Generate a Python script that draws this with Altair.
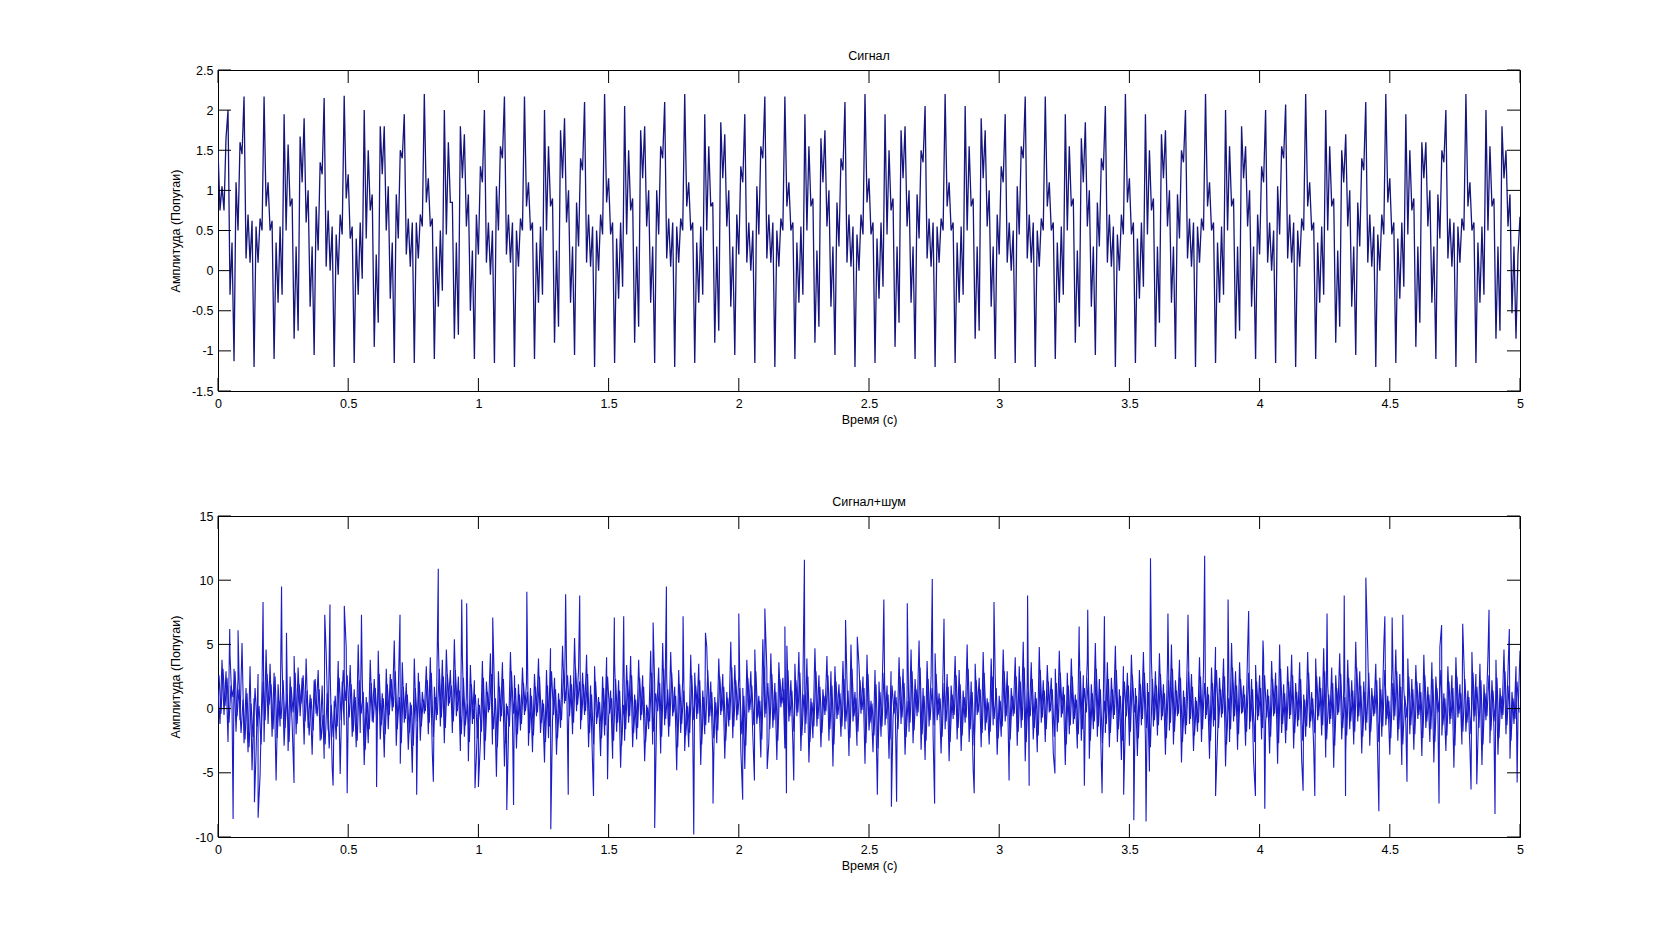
import altair as alt
import pandas as pd

# ---------------- data ----------------
# top panel: "Сигнал" - successive local extrema, evenly spaced over 0..5 s
signal_vals = [
    1.5, 0.75, 1.05, 0.75, 1.65, 2.0, -0.3, 0.35,
    -1.13, 1.10, 0.50, 1.60, 1.45, 2.17, 0.15, 0.70, 0.10, 0.62,
    -1.20, 0.55, 0.10, 0.65, 0.50, 2.17, 0.80, 1.10, 0.50, 0.62,
    -1.10, 0.35, -0.40, 0.55, -0.30, 1.95, 0.50, 1.57, 0.80, 0.90,
    -0.85, 0.30, -0.75, 1.67, 1.10, 1.90, 0.60, 1.00, -0.45, 0.30,
    -1.05, 0.80, 0.25, 1.35, 1.20, 2.15, 0.05, 0.75, 0.00, 0.55,
    -1.20, 0.45, -0.05, 0.70, 0.45, 2.18, 0.90, 1.20, 0.40, 0.55,
    -1.15, 0.40, -0.30, 0.60, -0.10, 2.00, 0.40, 1.50, 0.75, 0.95,
    -0.95, 0.20, -0.65, 1.80, 1.20, 1.80, 0.50, 1.05, -0.35, 0.35,
    -1.15, 0.95, 0.40, 1.50, 1.40, 1.95, 0.20, 0.65, 0.05, 0.60,
    -1.15, 0.60, 0.15, 0.70, 0.55, 2.20, 0.85, 1.15, 0.55, 0.65,
    -1.10, 0.30, -0.45, 0.50, -0.25, 2.00, 0.45, 1.60, 0.85, 0.85,
    -0.85, 0.35, -0.80, 1.80, 1.15, 1.70, 0.55, 0.95, -0.50, 0.25,
    -1.10, 0.70, 0.20, 1.30, 1.10, 2.00, 0.10, 0.60, -0.05, 0.50,
    -1.15, 1.05, 0.50, 1.55, 1.40, 2.17, 0.20, 0.70, 0.10, 0.60,
    -1.20, 0.50, 0.05, 0.65, 0.50, 2.17, 0.80, 1.10, 0.50, 0.60,
    -1.10, 0.35, -0.40, 0.55, -0.30, 2.00, 0.50, 1.55, 0.80, 0.90,
    -0.90, 0.25, -0.70, 1.75, 1.15, 1.90, 0.60, 1.00, -0.40, 0.30,
    -1.05, 0.85, 0.30, 1.40, 1.25, 2.10, 0.10, 0.70, 0.05, 0.55,
    -1.20, 0.50, 0.00, 0.70, 0.45, 2.20, 0.85, 1.15, 0.45, 0.60,
    -1.15, 0.40, -0.35, 0.60, -0.20, 2.05, 0.45, 1.50, 0.75, 0.90,
    -0.90, 0.30, -0.70, 1.75, 1.15, 1.80, 0.55, 1.00, -0.40, 0.30,
    -1.15, 1.00, 0.45, 1.55, 1.40, 2.10, 0.15, 0.65, 0.05, 0.60,
    -1.20, 0.55, 0.10, 0.65, 0.50, 2.20, 0.80, 1.10, 0.50, 0.60,
    -1.15, 0.35, -0.40, 0.55, -0.30, 1.95, 0.50, 1.55, 0.80, 0.85,
    -0.90, 0.30, -0.75, 1.85, 1.15, 1.70, 0.55, 1.00, -0.45, 0.30,
    -1.05, 0.70, 0.20, 1.30, 1.10, 1.95, 0.10, 0.60, 0.00, 0.50,
    -1.15, 1.05, 0.45, 1.55, 1.40, 2.17, 0.15, 0.70, 0.10, 0.60,
    -1.20, 0.50, 0.05, 0.65, 0.50, 2.17, 0.80, 1.10, 0.50, 0.60,
    -1.10, 0.35, -0.40, 0.55, -0.30, 1.95, 0.50, 1.55, 0.80, 0.90,
    -0.90, 0.25, -0.70, 1.65, 1.10, 1.75, 0.55, 1.00, -0.45, 0.30,
    -1.05, 0.85, 0.30, 1.40, 1.25, 2.10, 0.10, 0.70, 0.05, 0.55,
    -1.20, 0.45, 0.00, 0.70, 0.45, 2.20, 0.85, 1.15, 0.45, 0.60,
    -1.15, 0.40, -0.35, 0.60, -0.20, 1.95, 0.45, 1.50, 0.75, 0.90,
    -0.95, 0.30, -0.65, 1.75, 1.15, 1.80, 0.55, 1.00, -0.40, 0.30,
    -1.10, 0.95, 0.40, 1.50, 1.35, 2.05, 0.15, 0.65, 0.05, 0.60,
    -1.20, 0.55, 0.10, 0.65, 0.50, 2.20, 0.80, 1.10, 0.50, 0.60,
    -1.15, 0.35, -0.40, 0.55, -0.30, 2.05, 0.50, 1.55, 0.80, 0.90,
    -0.85, 0.30, -0.75, 1.90, 1.15, 1.75, 0.55, 1.00, -0.45, 0.30,
    -1.10, 0.70, 0.20, 1.30, 1.10, 1.95, 0.10, 0.60, 0.00, 0.50,
    -1.15, 1.05, 0.45, 1.55, 1.40, 2.17, 0.15, 0.70, 0.10, 0.60,
    -1.20, 0.50, 0.05, 0.65, 0.50, 2.17, 0.80, 1.10, 0.50, 0.60,
    -1.10, 0.35, -0.40, 0.55, -0.30, 1.95, 0.50, 1.55, 0.80, 0.90,
    -0.90, 0.25, -0.70, 1.65, 1.10, 1.85, 0.55, 1.00, -0.45, 0.30,
    -1.05, 0.85, 0.30, 1.40, 1.25, 2.05, 0.10, 0.70, 0.05, 0.55,
    -1.20, 0.45, 0.00, 0.70, 0.45, 2.20, 0.85, 1.15, 0.45, 0.60,
    -1.15, 0.40, -0.35, 0.60, -0.20, 1.95, 0.45, 1.50, 0.75, 0.90,
    -0.95, 0.30, -0.65, 1.70, 1.15, 1.75, 0.55, 1.00, -0.40, 0.30,
    -1.10, 0.95, 0.40, 1.50, 1.35, 2.00, 0.15, 0.65, 0.05, 0.60,
    -1.20, 0.55, 0.10, 0.65, 0.50, 2.20, 0.80, 1.10, 0.50, 0.60,
    -1.15, 0.35, -0.40, 0.55, -0.30, 2.00, 0.50, 1.55, 0.80, 0.90,
    -0.85, 0.30, -0.75, 1.80, 1.15, 1.55, 0.55, 1.00, -0.45, 0.30,
    -1.10, 0.70, 0.20, 1.30, 1.10, 2.00, 0.10, 0.60, 0.00, 0.50,
    -1.15, 1.05, 0.45, 1.55, 1.40, 2.07, 0.15, 0.70, 0.10, 0.60,
    -1.20, 0.50, 0.05, 0.65, 0.50, 2.20, 0.80, 1.10, 0.50, 0.60,
    -1.10, 0.35, -0.40, 0.55, -0.30, 2.00, 0.50, 1.55, 0.80, 0.90,
    -0.90, 0.25, -0.70, 1.50, 1.10, 1.70, 0.55, 1.00, -0.45, 0.30,
    -1.05, 0.85, 0.30, 1.40, 1.25, 2.10, 0.10, 0.70, 0.05, 0.55,
    -1.20, 0.45, 0.00, 0.70, 0.45, 2.20, 0.85, 1.15, 0.45, 0.60,
    -1.15, 0.40, -0.35, 0.60, -0.20, 1.95, 0.45, 1.50, 0.75, 0.90,
    -0.95, 0.30, -0.65, 1.60, 1.15, 1.60, 0.55, 1.00, -0.40, 0.30,
    -1.10, 0.95, 0.40, 1.50, 1.35, 2.00, 0.15, 0.65, 0.05, 0.60,
    -1.20, 0.55, 0.10, 0.65, 0.50, 2.20, 0.80, 1.10, 0.50, 0.60,
    -1.15, 0.35, -0.40, 0.55, -0.30, 2.00, 0.50, 1.55, 0.80, 0.90,
    -0.85, 0.30, -0.75, 1.80, 1.15, 1.50, 0.55, 0.95, -0.53, 0.30,
    -0.85, 0.20, 0.67,
]

# bottom panel: "Сигнал+шум" - body of the noisy trace (outer swings), evenly spaced over 0..5 s
noisy_base = [
    1.5, -1.2, 3.8, -0.5, 2.9, -2.6, 4.2, 0.3, 3.1, -1.8, 2.4, -0.9, 5.1, -2.7, 1.6, -3.4, 3.3, -4.8, 0.8, -3.5, 2.7, -5.2, 1.9, -2.6, 4.6, -1.2,
    3.5, -2.2, 2.8, -5.6, 1.9, -1.4, 3.6, -2.9, 0.7, -3.3, 2.5, -1.1, 4.1, -2.0, 3.2, -0.6, 2.4, -2.8, 3.9, -1.5, 1.1, -3.6, 2.2, -0.4, 3.0, -2.5,
    1.8, -3.9, 4.4, -1.7, 2.9, -4.6, 0.6, -2.4, 3.7, -5.1, 2.1, -1.3, 4.8, -0.8, 3.4, -2.2, 1.5, -3.0, 5.0, -1.9, 2.6, -4.4, 0.9, -2.7, 3.8, -1.0,
    2.3, -0.7, 4.5, -2.4, 1.2, -3.8, 3.1, -1.6, 2.7, -0.2, 5.3, -2.9, 1.4, -4.3, 3.6, -1.1, 2.0, -3.2, 0.5, -5.0, 3.9, -1.8, 2.8, -2.5, 1.3, -0.4,
    3.3, -2.0, 4.0, -3.5, 1.7, -0.9, 5.2, -1.4, 3.8, -2.7, 4.6, 0.2, 3.0, -1.9, 5.4, -0.6, 2.5, -3.3, 4.1, -2.2, 1.0, -4.1, 3.4, -1.2, 2.2, -3.7,
    0.8, -2.6, 3.7, -4.0, 2.1, -0.3, 4.3, -2.8, 1.5, -5.3, 2.9, -1.0, 3.6, -4.5, 0.4, -2.1, 4.4, -0.8, 2.6, -3.1, 1.9, -1.7, 3.2, -0.5, 2.0, -2.9,
    1.6, -3.4, 2.7, -0.6, 3.9, -1.9, 0.7, -4.2, 3.0, -2.3, 4.7, -0.9, 2.4, -3.6, 1.2, -1.5, 4.9, 0.4, 3.5, -1.3, 2.6, -2.0, 5.5, -0.2, 3.1, -1.6,
    2.8, -0.5, 4.2, -3.0, 1.8, -4.4, 3.3, -1.2, 0.9, -3.7, 2.5, -2.1, 4.0, -0.7, 1.4, -3.9, 3.6, -1.8, 2.2, -4.6, 0.6, -2.5, 3.4, -1.1, 4.1, -3.0,
    1.1, -2.4, 3.8, -0.9, 2.6, -4.1, 0.3, -1.6, 4.5, -2.8, 1.9, -0.4, 3.2, -3.5, 5.1, -1.3, 2.4, -2.2, 4.4, -0.6, 1.7, -4.8, 3.0, -1.9, 2.3, -3.3,
    0.5, -3.0, 4.2, -1.5, 2.8, -0.8, 3.5, -4.4, 1.4, -2.0, 4.8, -1.1, 2.1, -3.6, 0.9, -2.7, 3.9, -0.5, 2.7, -3.9, 1.3, -1.4, 5.2, -2.3, 3.4, -0.9,
    2.5, -3.2, 1.6, -4.7, 3.8, -0.3, 2.9, -2.1, 4.6, -1.2, 1.0, -3.8, 5.4, -0.7, 3.1, -2.6, 4.3, -1.5, 2.0, -4.0, 3.6, 0.1, 2.4, -3.1, 4.9, -1.0,
    2.2, -2.8, 3.5, -0.6, 4.4, -3.3, 1.7, -1.9, 3.9, -4.2, 0.8, -2.3, 4.7, -1.4, 2.6, -3.0, 1.5, -0.5, 4.1, -2.5, 2.9, -4.5, 3.3, -0.8, 1.9, -2.2,
    3.7, -1.6, 2.2, -3.7, 5.0, -1.0, 1.3, -2.9, 3.4, -0.4, 2.5, -4.3, 4.2, -1.7, 0.6, -3.4, 3.0, -5.1, 2.1, -2.2, 4.5, -1.3, 1.8, -3.9, 2.9, -0.7,
    1.4, -2.5, 4.0, -1.2, 3.1, -3.6, 0.9, -1.8, 4.6, -2.7, 2.3, -0.6, 5.3, -3.2, 1.6, -4.0, 3.7, -1.4, 2.5, -2.1, 4.3, -0.9, 1.2, -3.5, 3.2, -1.6,
    2.7, -4.1, 1.8, -0.8, 4.1, -2.4, 3.0, -3.3, 1.4, -1.1, 5.0, -2.6, 2.1, -4.7, 3.5, -0.5, 2.4, -3.0, 4.4, -1.7, 0.8, -2.8, 3.9, -1.3, 2.6, -3.6,
    1.0, -2.2, 4.6, -1.0, 2.9, -3.8, 1.6, -0.6, 4.0, -2.9, 3.3, -1.5, 5.2, -4.1, 2.0, -0.9, 3.6, -2.4, 1.3, -3.4, 4.8, -1.1, 2.2, -2.6, 3.4, -0.3,
    2.4, -3.5, 3.1, -1.8, 4.5, -0.7, 1.7, -4.4, 2.8, -2.0, 3.9, -1.2, 1.1, -3.1, 4.7, -2.5, 2.6, -0.4, 3.8, -3.9, 1.9, -1.6, 5.1, -2.2, 2.3, -4.3,
    0.9, -1.9, 3.6, -3.0, 2.4, -0.8, 4.9, -2.6, 1.5, -4.0, 3.3, -1.0, 2.8, -2.9, 4.2, -0.5, 1.6, -3.7, 3.0, -1.3, 4.4, -2.4, 2.0, -4.9, 3.7, -1.4,
    2.9, -2.1, 4.3, -0.9, 1.9, -3.6, 3.5, -1.7, 5.0, -2.8, 2.2, -0.6, 3.8, -4.2, 1.4, -2.0, 4.6, -1.2, 2.7, -3.3, 0.9, -1.8, 4.0, -2.6, 3.1, -0.8,
    1.7, -3.9, 3.2, -1.4, 4.8, -2.3, 2.4, -0.7, 3.9, -4.5, 1.2, -2.6, 5.1, -1.0, 2.9, -3.2, 3.6, -0.4, 1.8, -2.9, 4.5, -1.6, 2.3, -4.1, 3.4, -0.9,
    2.6, -2.4, 4.1, -1.1, 1.5, -3.5, 3.7, -0.6, 2.8, -4.3, 5.0, -1.9, 1.9, -2.7, 3.3, -0.8, 4.2, -3.1, 2.0, -1.4, 3.6, -4.0, 1.1, -2.2, 4.4, -1.5,
    1.3, -3.0, 3.9, -0.9, 2.5, -2.1, 4.7, -3.8, 1.8, -1.2, 3.2, -4.6, 2.6, -0.5, 4.3, -2.4, 1.4, -3.4, 3.8, -1.6, 2.2, -2.8, 5.2, -1.0, 2.9, -3.5,
    2.1, -1.7, 4.5, -2.9, 1.6, -0.6, 3.5, -4.1, 2.4, -2.2, 4.9, -1.3, 1.0, -3.6, 3.1, -0.9, 4.6, -2.5, 2.7, -4.4, 1.5, -1.1, 3.9, -2.0, 2.3, -3.2,
    3.4, -0.8, 2.0, -3.7, 4.2, -1.5, 1.7, -2.6, 3.6, -4.2, 2.5, -0.4, 4.8, -2.1, 1.2, -3.3, 3.3, -1.2, 2.6, -4.6, 4.0, -0.7, 1.9, -2.8, 3.7, -1.8,
    1.4, -3.1, 4.4, -1.0, 2.7, -2.4, 3.5, -4.4, 1.9, -0.9, 4.1, -2.7, 2.2, -1.5, 3.8, -3.6, 1.6, -0.8, 4.6, -2.0, 2.9, -3.9, 1.3, -1.2, 3.3, -0.5,
    4.5,
]

# bottom panel: the dense inner core of the noisy trace, evenly spaced (half a step later)
noisy_core = [
    2.6, -0.4, 3.1, 0.2, 2.4, -1.1, 1.8, 0.9, 2.9, -0.6, 1.5, -1.9, 0.7, -2.4, 1.2, -3.0, 0.4, -2.2, 1.6, -1.4, 0.2, -2.8, 2.1, -0.9, 2.7, 0.3,
    1.9, -1.6, 2.5, -2.3, 0.6, -0.8, 2.2, -1.5, 1.1, -2.6, 1.7, -0.3, 2.8, -1.2, 1.9, 0.4, 2.6, -1.0, 1.4, -2.1, 0.8, -1.7, 2.3, -0.6, 1.5, -2.4,
    -0.5, -2.8, 1.2, -3.1, 0.3, -2.2, 1.0, -1.4, 2.4, -0.9, 3.0, 0.6, 2.6, -0.7, 1.9, -1.8, 0.9, -2.5, 2.2, -0.4, 1.3, -3.2, 0.5, -1.6, 2.0, -1.1,
    1.6, -0.9, 2.7, -1.3, 0.8, -2.0, 1.9, -0.5, 2.3, 0.1, 2.9, -1.6, 0.9, -2.7, 1.7, -0.8, 1.1, -1.9, 0.3, -2.9, 1.6, -1.0, 2.1, -1.4, 0.7, -0.2,
    2.2, -1.1, 2.8, -2.2, 0.9, -0.5, 3.1, -0.7, 2.5, -1.5, 2.7, 0.4, 1.8, -1.0, 3.0, -0.2, 1.4, -2.0, 2.4, -1.3, 0.4, -2.6, 1.9, -0.8, 1.1, -2.3,
    0.3, -1.8, 2.4, -2.5, 1.3, -0.1, 2.7, -1.6, 0.8, -3.0, 1.7, -0.6, 2.3, -2.7, 0.2, -1.4, 2.9, -0.4, 1.6, -2.0, 1.1, -1.2, 2.0, -0.2, 1.3, -1.9,
    1.0, -2.1, 1.7, -0.3, 2.5, -1.1, 0.4, -2.6, 1.8, -1.4, 2.9, -0.5, 1.5, -2.3, 0.7, -0.9, 3.0, 0.6, 2.6, -0.6, 1.9, -1.1, 3.2, 0.3, 2.1, -0.9,
    1.9, -0.2, 2.7, -1.9, 1.1, -2.8, 2.1, -0.7, 0.5, -2.3, 1.6, -1.3, 2.5, -0.4, 0.8, -2.5, 2.3, -1.1, 1.4, -2.9, 0.3, -1.6, 2.2, -0.6, 2.6, -1.9,
    0.7, -1.5, 2.4, -0.5, 1.7, -2.6, 0.1, -1.0, 2.8, -1.8, 1.2, -0.2, 2.0, -2.2, 3.1, -0.8, 1.5, -1.4, 2.8, -0.3, 1.0, -3.0, 1.9, -1.2, 1.4, -2.1,
    0.2, -1.9, 2.6, -0.9, 1.8, -0.4, 2.2, -2.8, 0.9, -1.3, 3.0, -0.6, 1.3, -2.3, 0.5, -1.7, 2.5, -0.2, 1.7, -2.5, 0.8, -0.9, 3.2, -1.4, 2.2, -0.5,
    1.6, -2.0, 1.0, -2.9, 2.4, -0.1, 1.8, -1.3, 2.9, -0.7, 0.6, -2.4, 3.3, -0.4, 2.0, -1.6, 2.7, -0.9, 1.3, -2.5, 2.3, 0.4, 1.5, -1.9, 3.0, -0.6,
    1.4, -1.8, 2.2, -0.3, 2.8, -2.1, 1.1, -1.2, 2.5, -2.6, 0.5, -1.4, 2.9, -0.8, 1.7, -1.9, 1.0, -0.2, 2.6, -1.6, 1.8, -2.8, 2.1, -0.5, 1.2, -1.4,
    2.3, -1.0, 1.4, -2.3, 3.1, -0.6, 0.8, -1.8, 2.2, -0.1, 1.6, -2.7, 2.7, -1.1, 0.4, -2.1, 1.9, -3.1, 1.3, -1.4, 2.8, -0.8, 1.1, -2.4, 1.8, -0.4,
    0.9, -1.6, 2.5, -0.7, 2.0, -2.2, 0.6, -1.1, 2.9, -1.7, 1.5, -0.3, 3.2, -2.0, 1.0, -2.5, 2.3, -0.9, 1.6, -1.3, 2.7, -0.5, 0.8, -2.2, 2.0, -1.0,
    1.7, -2.6, 1.1, -0.5, 2.6, -1.5, 1.9, -2.1, 0.9, -0.7, 3.1, -1.6, 1.3, -2.9, 2.2, -0.3, 1.5, -1.9, 2.8, -1.1, 0.5, -1.8, 2.5, -0.8, 1.6, -2.3,
    0.6, -1.4, 2.9, -0.6, 1.8, -2.4, 1.0, -0.4, 2.5, -1.8, 2.1, -0.9, 3.2, -2.6, 1.3, -0.6, 2.3, -1.5, 0.8, -2.1, 3.0, -0.7, 1.4, -1.6, 2.1, -0.2,
    1.5, -2.2, 2.0, -1.1, 2.8, -0.4, 1.1, -2.8, 1.8, -1.3, 2.5, -0.8, 0.7, -2.0, 2.9, -1.6, 1.6, -0.3, 2.4, -2.5, 1.2, -1.0, 3.1, -1.4, 1.5, -2.7,
    0.6, -1.2, 2.3, -1.9, 1.5, -0.5, 3.0, -1.6, 1.0, -2.5, 2.1, -0.6, 1.8, -1.8, 2.6, -0.3, 1.0, -2.3, 1.9, -0.8, 2.8, -1.5, 1.3, -3.0, 2.3, -0.9,
    1.8, -1.3, 2.7, -0.6, 1.2, -2.3, 2.2, -1.1, 3.1, -1.8, 1.4, -0.4, 2.4, -2.6, 0.9, -1.3, 2.9, -0.8, 1.7, -2.1, 0.6, -1.1, 2.5, -1.6, 2.0, -0.5,
    1.1, -2.5, 2.0, -0.9, 3.0, -1.5, 1.5, -0.4, 2.5, -2.8, 0.8, -1.6, 3.2, -0.6, 1.8, -2.0, 2.3, -0.3, 1.1, -1.8, 2.8, -1.0, 1.5, -2.6, 2.1, -0.6,
    1.6, -1.5, 2.6, -0.7, 1.0, -2.2, 2.3, -0.4, 1.8, -2.7, 3.1, -1.2, 1.2, -1.7, 2.1, -0.5, 2.6, -1.9, 1.3, -0.9, 2.3, -2.5, 0.7, -1.4, 2.8, -1.0,
    0.8, -1.9, 2.5, -0.6, 1.6, -1.3, 2.9, -2.4, 1.1, -0.8, 2.0, -2.9, 1.6, -0.3, 2.7, -1.5, 0.9, -2.1, 2.4, -1.0, 1.4, -1.8, 3.2, -0.6, 1.8, -2.2,
    1.3, -1.1, 2.8, -1.8, 1.0, -0.4, 2.2, -2.6, 1.5, -1.4, 3.0, -0.8, 0.6, -2.3, 2.0, -0.6, 2.9, -1.6, 1.7, -2.8, 1.0, -0.7, 2.5, -1.3, 1.5, -2.0,
    2.1, -0.5, 1.3, -2.3, 2.6, -1.0, 1.1, -1.6, 2.3, -2.6, 1.6, -0.3, 3.0, -1.3, 0.8, -2.1, 2.1, -0.8, 1.6, -2.9, 2.5, -0.4, 1.2, -1.8, 2.3, -1.1,
    0.9, -2.0, 2.8, -0.6, 1.7, -1.5, 2.2, -2.8, 1.2, -0.6, 2.6, -1.7, 1.4, -1.0, 2.4, -2.3, 1.0, -0.5, 2.9, -1.3, 1.8, -2.5, 0.8, -0.8, 2.1, -0.3,
]

# the tall single spikes of the noisy trace: time (s) and value
spike_t = [0.045, 0.058, 0.077, 0.140, 0.154, 0.173, 0.244, 0.263, 0.292, 0.410, 0.430, 0.442,
           0.485, 0.496, 0.551, 0.609, 0.699, 0.763, 0.827, 0.846, 0.936, 0.955, 0.987, 1.000,
           1.055, 1.109, 1.135, 1.186, 1.278, 1.335, 1.345, 1.389, 1.442, 1.496, 1.522, 1.558,
           1.671, 1.677, 1.722, 1.786, 1.827, 1.872, 1.901, 2.000, 2.015, 2.060, 2.100, 2.109,
           2.177, 2.183, 2.211, 2.252, 2.410, 2.455, 2.532, 2.557, 2.586, 2.606, 2.647, 2.743,
           2.752, 2.788, 2.904, 2.980, 3.038, 3.109, 3.115, 3.214, 3.307, 3.327, 3.340, 3.395,
           3.404, 3.478, 3.517, 3.564, 3.581, 3.648, 3.725, 3.789, 3.831, 3.879, 3.958, 3.984,
           4.013, 4.020, 4.167, 4.212, 4.259, 4.325, 4.330, 4.408, 4.458, 4.481, 4.509, 4.550,
           4.566, 4.689, 4.699, 4.780, 4.812, 4.834, 4.881, 4.904, 4.959, 4.989]
spike_v = [6.2, -8.6, 6.1, -7.3, -8.5, 8.3, 9.5, 5.9, -5.8, 7.3, 8.1, -6.0,
           8.0, -6.6, 7.3, -6.1, 7.3, -6.7, -5.7, 10.9, 8.5, 8.2, -6.2, -6.1,
           7.1, -7.9, -7.5, 9.1, -9.4, 8.9, -6.7, 8.8, -6.8, -5.5, 7.1, 7.2,
           6.7, -9.3, 9.5, 7.2, -9.8, 5.9, -7.4, 7.4, -7.1, -5.6, 7.8, -4.7,
           6.4, -6.6, -5.6, 11.6, 6.9, 5.6, -6.7, 8.5, -7.65, -7.25, 8.2, 10.1,
           -7.4, 7.0, -6.6, 8.3, -5.6, 8.8, -6.0, -5.05, 6.4, -6.0, 7.7, -6.6,
           7.2, -6.7, -8.7, -8.8, 11.7, 7.4, 7.3, 11.9, -6.8, 8.5, 7.6, -6.8,
           5.3, -7.8, -6.4, -6.8, 7.4, 8.8, -6.8, 10.2, -8.0, 7.2, 7.1, 7.3,
           -5.7, -7.4, 6.5, 6.6, -6.3, -5.9, 7.7, -8.2, 6.2, -5.75]

x_ticks = [0, 0.5, 1, 1.5, 2, 2.5, 3, 3.5, 4, 4.5, 5]
y_ticks_top = [-1.5, -1, -0.5, 0, 0.5, 1, 1.5, 2, 2.5]
y_ticks_bottom = [-10, -5, 0, 5, 10, 15]

# ---------------- tables ----------------
n_sig = len(signal_vals)
df_sig = pd.DataFrame({"t": [5.0 * i / (n_sig - 1) for i in range(n_sig)], "v": signal_vals, "s": "a"})

n_b = len(noisy_base)
step = 5.0 / (n_b - 1)
rows = [(i * step, v) for i, v in enumerate(noisy_base)] + list(zip(spike_t, spike_v))
rows.sort(key=lambda r: r[0])
df_a = pd.DataFrame(rows, columns=["t", "v"])
df_a["s"] = "a"
df_b = pd.DataFrame({"t": [(i + 0.5) * step for i in range(len(noisy_core))], "v": noisy_core})
df_b["s"] = "b"
df_noise = pd.concat([df_a, df_b], ignore_index=True)

W, H = 1302, 321
TICK = 13
FONT = "Liberation Sans"
FS = 12.5


def panel(df, color, width, y_dom, y_ticks, title):
    xs = alt.Scale(domain=[0, 5], nice=False, zero=False)
    ys = alt.Scale(domain=y_dom, nice=False, zero=False)
    xaxis = alt.Axis(values=x_ticks, labelExpr="toString(datum.value)", ticks=False, domain=False,
                     grid=False, labelFlush=False, labelPadding=6, labelFont=FONT, labelFontSize=FS,
                     labelColor="black", title="Время (с)", titleFont=FONT, titleFontSize=FS,
                     titleFontWeight="normal", titleColor="black", titleX=W / 2, titleY=28,
                     titleBaseline="middle", titleAlign="center")
    yaxis = alt.Axis(values=y_ticks, labelExpr="toString(datum.value)", ticks=False, domain=False,
                     grid=False, labelFlush=False, labelPadding=5, labelFont=FONT, labelFontSize=FS,
                     labelColor="black", title="Амплитуда (Попугаи)", titleFont=FONT, titleFontSize=FS,
                     titleFontWeight="normal", titleColor="black", titleX=-43, titleY=H / 2,
                     titleBaseline="middle", titleAlign="center", titleAngle=270)
    line = alt.Chart(df).mark_line(color=color, strokeWidth=width, clip=True).encode(
        x=alt.X("t:Q", scale=xs, axis=xaxis),
        y=alt.Y("v:Q", scale=ys, axis=yaxis),
        detail="s:N",
        order="t:Q",
    )
    xt = pd.DataFrame({"t": x_ticks})
    yt = pd.DataFrame({"v": y_ticks})
    rule_style = dict(color="black", strokeWidth=1)
    xb = alt.Chart(xt).mark_rule(**rule_style).encode(
        x=alt.X("t:Q", scale=xs), y=alt.value(H), y2=alt.value(H - TICK))
    xtop = alt.Chart(xt).mark_rule(**rule_style).encode(
        x=alt.X("t:Q", scale=xs), y=alt.value(0), y2=alt.value(TICK))
    yl = alt.Chart(yt).mark_rule(**rule_style).encode(
        y=alt.Y("v:Q", scale=ys), x=alt.value(0), x2=alt.value(TICK))
    yr = alt.Chart(yt).mark_rule(**rule_style).encode(
        y=alt.Y("v:Q", scale=ys), x=alt.value(W - TICK), x2=alt.value(W))
    return alt.layer(line, xb, xtop, yl, yr).properties(
        width=W, height=H,
        title=alt.TitleParams(title, font=FONT, fontSize=FS, fontWeight="normal", color="black",
                              anchor="middle", baseline="bottom", offset=-11),
    )


top = panel(df_sig, "#15157c", 1.3, [-1.5, 2.5], y_ticks_top, "Сигнал")
bottom = panel(df_noise, "#1b1bc8", 1.1, [-10, 15], y_ticks_bottom, "Сигнал+шум")

chart = alt.vconcat(top, bottom, spacing=125, bounds="flush").properties(
    padding={"left": 160, "top": 41, "right": 5, "bottom": 5},
    background="white",
).configure_view(stroke="black", strokeWidth=1)

chart.save("out.html", embed_options={"renderer": "svg", "actions": False})
